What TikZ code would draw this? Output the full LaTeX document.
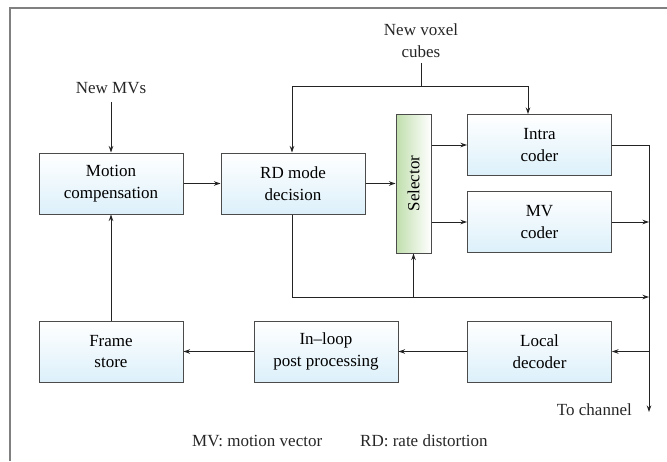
\documentclass[tikz,border=0pt]{standalone}
\usepackage{fontspec}
\setmainfont{Liberation Serif}
\usetikzlibrary{arrows.meta,calc}
\definecolor{boxblue}{RGB}{220,240,250}
\definecolor{selgreen}{RGB}{192,222,172}
\definecolor{edgegray}{RGB}{75,75,75}
\definecolor{linec}{RGB}{35,35,35}
\begin{document}
\begin{tikzpicture}[x=1pt,y=-1pt, font=\fontsize{17}{21.5}\selectfont,
  blk/.style={draw=edgegray, line width=1pt, top color=white, bottom color=boxblue,
    minimum width=144pt, minimum height=61pt, inner sep=0pt, align=center},
  selbox/.style={draw=edgegray, line width=1pt, left color=selgreen, right color=white,
    minimum width=35pt, minimum height=139pt, inner sep=0pt},
  conn/.style={draw=linec, line width=0.9pt},
  arr/.style={conn, -{Stealth[length=6.5pt,width=4.5pt]}},
  lbl/.style={inner sep=0pt, align=center, text=black!85}]
\useasboundingbox (0,0) rectangle (667,461);
\draw[gray, line width=1.3pt] (10,461) -- (10,8) -- (667,8);

\node[blk] (mc) at (111,183.5) {Motion\\compensation};
\node[blk] (rd) at (293,183.5) {RD mode\\decision};
\node[selbox] (sel) at (413.5,183.5) {\rotatebox{90}{Selector}};
\node[blk] (intra) at (539.5,145) {Intra\\coder};
\node[blk] (mv) at (539.5,222) {MV\\coder};
\node[blk] (fs) at (111,351.5) {Frame\\store};
\node[blk] (il) at (326,351.5) {In--loop\\post processing};
\node[blk] (ld) at (539.5,351.5) {Local\\decoder};

\node[lbl] (newmv) at (111,88) {New MVs};
\node[lbl] (voxel) at (421,40.5) {New voxel\\cubes};
\node[lbl, anchor=east] (tochan) at (632,410) {To channel};
\node[lbl, anchor=west] (leg1) at (192,441) {MV: motion vector};
\node[lbl, anchor=west] (leg2) at (360,441) {RD: rate distortion};

\coordinate (split) at (421,86);
\coordinate (chan) at (649,412);
\coordinate (loopc) at (649,297);

\draw[arr] ([yshift=-8pt]newmv.south) -- (mc.north);
\draw[conn] ([yshift=-6pt]voxel.south) -- (split);
\draw[arr] (split) -| ([xshift=-1pt]rd.north);
\draw[arr] (split) -| ([xshift=-11.5pt]intra.north);

\draw[arr] (mc.east) -- (rd.west);
\draw[arr] (rd.east) -- (sel.west);
\draw[arr] (sel.east |- intra.west) -- (intra.west);
\draw[arr] (sel.east |- mv.west) -- (mv.west);

\draw[arr] (intra.east) -| (chan);
\draw[arr] (mv.east) -- (mv.east -| chan);
\draw[arr] ([xshift=-1pt]rd.south) |- (loopc);
\draw[arr] (sel.south |- loopc) -- (sel.south);
\draw[arr] (ld.east -| chan) -- (ld.east);
\draw[arr] (ld.west) -- (il.east);
\draw[arr] (il.west) -- (fs.east);
\draw[arr] (fs.north) -- (mc.south);
\end{tikzpicture}
\end{document}
